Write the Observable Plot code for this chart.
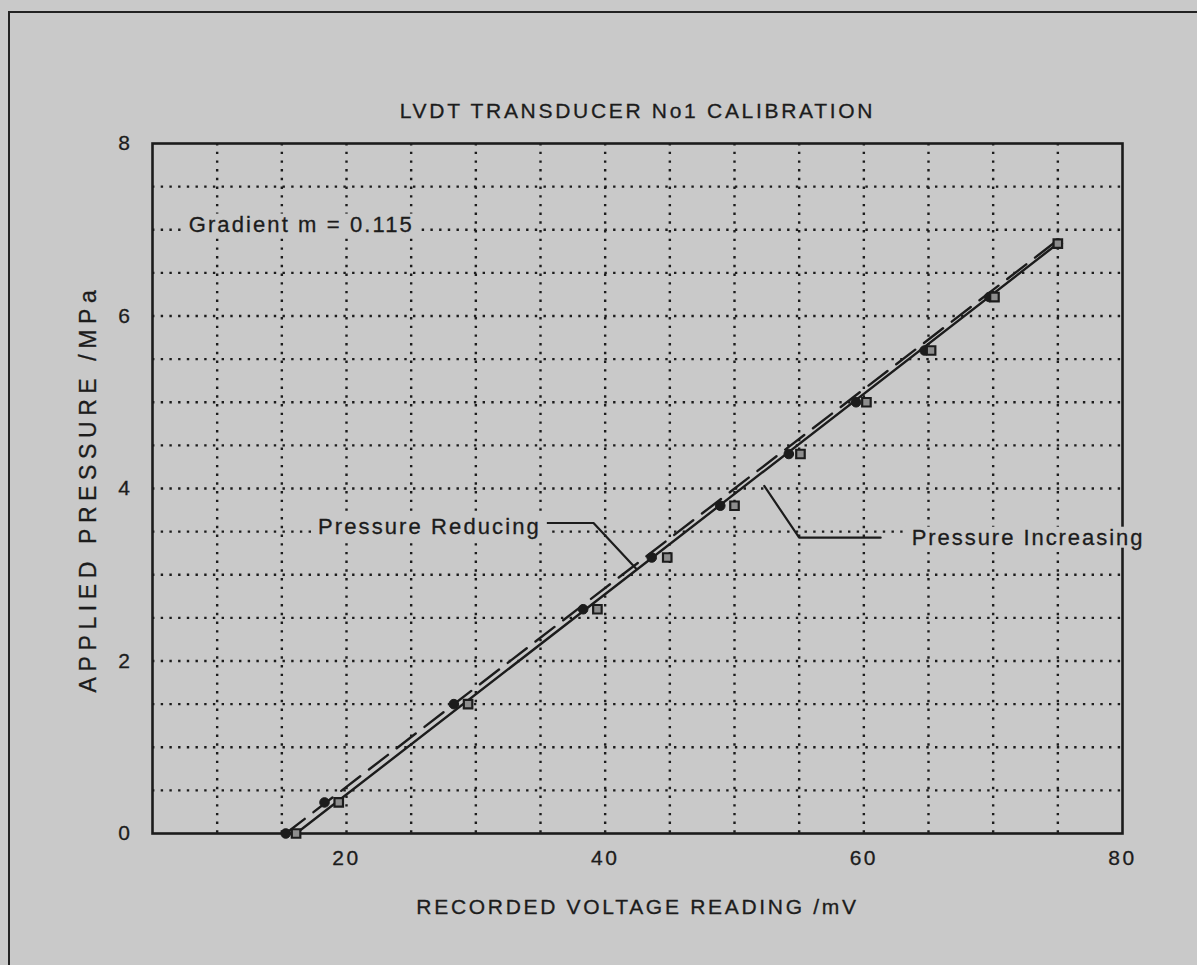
<!DOCTYPE html>
<html>
<head>
<meta charset="utf-8">
<script src="https://cdn.jsdelivr.net/npm/d3@7"></script>
<script src="https://cdn.jsdelivr.net/npm/@observablehq/plot@0.6"></script>
<style>
  html, body { margin: 0; padding: 0; background: #c9c9c9; }
  #wrap { position: relative; width: 1197px; height: 965px; overflow: hidden; background: #c9c9c9; }
  #border { position: absolute; left: 8px; top: 11px; width: 1300px; height: 1100px;
            border-left: 2px solid #222; border-top: 2px solid #222; }
  #chart { position: absolute; left: 0; top: 0; }
</style>
</head>
<body>
<div id="wrap"><div id="border"></div><div id="chart"></div></div>
<script>
// ---- data ----
const pressureLevels    = [0, 0.36, 1.5, 2.6, 3.2, 3.8, 4.4, 5.0, 5.6, 6.22, 6.84];
const voltageIncreasing = [16.1, 19.4, 29.4, 39.4, 44.8, 50.0, 55.1, 60.2, 65.2, 70.1, 75.0];
const voltageReducing   = [15.3, 18.3, 28.3, 38.3, 43.6, 48.9, 54.2, 59.4, 64.7, 69.7, 75.0];

// fitted calibration lines (end points)
const fitIncV = [16.1, 75.0], fitIncP = [0, 6.84];
const fitRedV = [15.3, 74.65], fitRedP = [0, 6.84];

const xTicks = [20, 40, 60, 80];
const yTicks = [0, 2, 4, 6, 8];
const xGrid = [10, 15, 20, 25, 30, 35, 40, 45, 50, 55, 60, 65, 70, 75];
const yGrid = [0.5, 1, 1.5, 2, 2.5, 3, 3.5, 4, 4.5, 5, 5.5, 6, 6.5, 7, 7.5];

const titleText = "LVDT TRANSDUCER No1 CALIBRATION";
const xTitle = "RECORDED VOLTAGE READING /mV";
const yTitle = "APPLIED PRESSURE /MPa";

// annotations (label text, anchor in data units)
const notes = [
  {text: "Gradient m = 0.115",  v: 7.8,  p: 7.06},
  {text: "Pressure Reducing",   v: 17.8, p: 3.55},
  {text: "Pressure Increasing", v: 63.7, p: 3.43}
];
const leaderRedV = [35.3, 39.1, 42.4], leaderRedP = [3.6, 3.6, 3.07];
const leaderIncV = [61.3, 55.0, 52.3], leaderIncP = [3.43, 3.43, 4.03];

// ---- styling ----
const ink = "#1c1c1c", paper = "#c9c9c9";
const spacing = new Map([
  [titleText, 2.7], [xTitle, 2.7], [yTitle, 5.6],
  ["Gradient m = 0.115", 2.1], ["Pressure Reducing", 2.1], ["Pressure Increasing", 1.95]
]);

// ---- build ----
const zip = (a, b) => a.map((v, i) => ({v, p: b[i]}));
const inc = zip(voltageIncreasing, pressureLevels);
const red = zip(voltageReducing, pressureLevels);

const chart = Plot.plot({
  width: 1197, height: 965,
  marginLeft: 152, marginRight: 75, marginTop: 143, marginBottom: 132,
  style: {background: "transparent", fontFamily: "'Liberation Sans', Arial, sans-serif", color: ink},
  x: {domain: [5, 80]},
  y: {domain: [0, 8]},
  marks: [
    Plot.ruleX(xGrid, {stroke: ink, strokeWidth: 2.4, strokeDasharray: "2.4 6.3"}),
    Plot.ruleY(yGrid, {stroke: ink, strokeWidth: 2.4, strokeDasharray: "2.4 6.3"}),
    Plot.frame({stroke: ink, strokeWidth: 2.6}),
    Plot.axisX({ticks: xTicks, tickSize: 0, tickPadding: 17, fontSize: 21, label: null, tickFormat: d => String(d)}),
    Plot.axisY({ticks: yTicks, tickSize: 0, tickPadding: 20, fontSize: 21, label: null, tickFormat: d => String(d)}),
    Plot.line(zip(fitIncV, fitIncP), {x: "v", y: "p", stroke: ink, strokeWidth: 2.4}),
    Plot.line(zip(fitRedV, fitRedP), {x: "v", y: "p", stroke: ink, strokeWidth: 2.4, strokeDasharray: "24 11"}),
    Plot.line(zip(leaderRedV, leaderRedP), {x: "v", y: "p", stroke: ink, strokeWidth: 2.2}),
    Plot.line(zip(leaderIncV, leaderIncP), {x: "v", y: "p", stroke: ink, strokeWidth: 2.2}),
    Plot.dot(red, {x: "v", y: "p", r: 4.8, fill: ink, stroke: ink, strokeWidth: 1}),
    Plot.dot(inc, {x: "v", y: "p", r: 4.8, symbol: "square", fill: "#8d8d8d", stroke: ink, strokeWidth: 2.2}),
    Plot.text(notes, {x: "v", y: "p", text: "text", textAnchor: "start", fontSize: 22, fill: ink}),
    Plot.text([titleText], {frameAnchor: "top", dy: -40, fontSize: 21, fill: ink}),
    Plot.text([xTitle], {frameAnchor: "bottom", dy: 80, fontSize: 21, fill: ink}),
    Plot.text([yTitle], {frameAnchor: "left", dx: -64, rotate: -90, textAnchor: "middle", fontSize: 23, fill: ink})
  ]
});

document.getElementById("chart").appendChild(chart);

// plotter-like lettering: wider spacing, slightly heavier strokes
const noteTexts = new Set(notes.map(d => d.text));
d3.select(chart).selectAll("text").each(function () {
  const t = this.textContent;
  if (spacing.has(t)) this.style.letterSpacing = spacing.get(t) + "px";
  else if (/^\d+$/.test(t)) this.style.letterSpacing = "2.5px";
  this.style.stroke = ink;
  this.style.strokeWidth = "0.3px";
});
// paper-coloured box behind annotation labels (hides the grid like the original)
d3.select(chart).selectAll("text").each(function () {
  if (!noteTexts.has(this.textContent)) return;
  const b = this.getBBox();
  const pad = 6;
  const r = document.createElementNS("http://www.w3.org/2000/svg", "rect");
  r.setAttribute("x", b.x - pad);
  r.setAttribute("y", b.y + 2);
  r.setAttribute("width", b.width + 2 * pad);
  r.setAttribute("height", b.height - 4);
  r.setAttribute("fill", paper);
  if (this.getAttribute("transform")) r.setAttribute("transform", this.getAttribute("transform"));
  this.parentNode.insertBefore(r, this);
});
</script>
</body>
</html>
